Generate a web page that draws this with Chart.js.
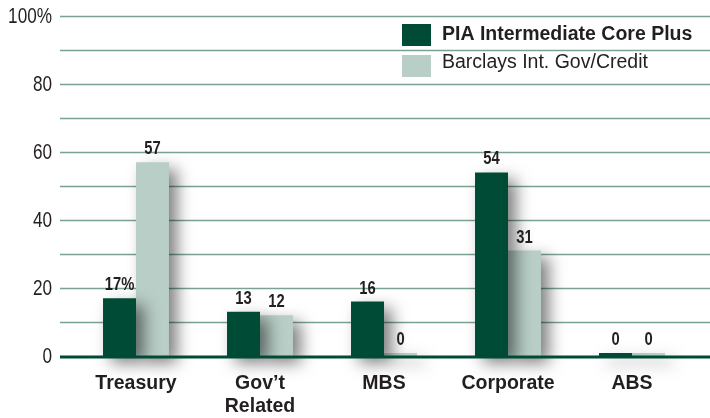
<!DOCTYPE html>
<html>
<head>
<meta charset="utf-8">
<script src="https://cdn.jsdelivr.net/npm/chart.js@4"></script>
<style>
  body { margin: 0; background: #fff; }
  #wrap { width: 710px; height: 418px; position: relative; }
</style>
</head>
<body>
<div id="wrap"><canvas id="sectorChart"></canvas></div>
<script>
const categories = ["Treasury", ["Gov\u2019t", "Related"], "MBS", "Corporate", "ABS"];
const piaValues = [17, 13, 16, 54, 0];
const barclaysValues = [57, 12, 0, 31, 0];
const seriesNames = ["PIA Intermediate Core Plus", "Barclays Int. Gov/Credit"];
const yTicks = [0, 20, 40, 60, 80, 100];

const SANS = "'Liberation Sans', Arial, sans-serif";
const TEXT = "#231f20";
const DARK = "#004b35";
const LIGHT = "#b8cec6";
const GRID = "#7aa293";

// gridlines every 10, thick baseline, bar shadows, value labels, narrow y labels, legend
const decor = {
  id: "decor",
  beforeDatasetsDraw(chart) {
    const ctx = chart.ctx;
    const y = chart.scales.y;
    ctx.save();
    ctx.strokeStyle = GRID;
    ctx.lineWidth = 1.6;
    for (let v = 10; v <= 100; v += 10) {
      const py = Math.round(y.getPixelForValue(v)) + 0.5;
      ctx.beginPath();
      ctx.moveTo(60, py);
      ctx.lineTo(chart.width, py);
      ctx.stroke();
    }
    ctx.restore();

    ctx.save();
    ctx.shadowColor = "rgba(0,0,0,0.5)";
    ctx.shadowBlur = 16;
    ctx.shadowOffsetX = 8;
    ctx.shadowOffsetY = 7;
  },
  afterDatasetsDraw(chart) {
    const ctx = chart.ctx;
    ctx.restore();

    const y = chart.scales.y;
    const base = y.getPixelForValue(0);
    ctx.save();
    ctx.strokeStyle = DARK;
    ctx.lineWidth = 3;
    ctx.beginPath();
    ctx.moveTo(60, base + 1);
    ctx.lineTo(chart.width, base + 1);
    ctx.stroke();

    // value labels
    ctx.fillStyle = TEXT;
    ctx.font = "bold 18px " + SANS;
    ctx.textAlign = "center";
    ctx.textBaseline = "bottom";
    chart.data.datasets.forEach((ds, di) => {
      chart.getDatasetMeta(di).data.forEach((bar, i) => {
        let txt = String(ds.data[i]);
        if (di === 0 && i === 0) txt += "%";
        ctx.save();
        ctx.translate(bar.x, bar.y - 4);
        ctx.scale(0.82, 1);
        ctx.fillText(txt, 0, 0);
        ctx.restore();
      });
    });

    // y tick labels, condensed look
    ctx.font = "22px " + SANS;
    ctx.textAlign = "right";
    ctx.textBaseline = "middle";
    y.ticks.forEach(t => {
      const txt = t.value === 100 ? "100%" : String(t.value);
      ctx.save();
      ctx.translate(52, y.getPixelForValue(t.value) + 1);
      ctx.scale(0.78, 1);
      ctx.fillText(txt, 0, 0);
      ctx.restore();
    });

    // legend
    ctx.textAlign = "left";
    chart.data.datasets.forEach((ds, di) => {
      const top = 24 + di * 31;
      ctx.fillStyle = ds.backgroundColor;
      ctx.fillRect(402, top, 29, 22);
      ctx.fillStyle = TEXT;
      ctx.font = (di === 0 ? "bold " : "") + "19.5px " + SANS;
      ctx.fillText(ds.label, 442, top + 11 - di * 3);
    });
    ctx.restore();
  }
};

new Chart(document.getElementById("sectorChart"), {
  type: "bar",
  data: {
    labels: categories,
    datasets: [
      { label: seriesNames[0], data: piaValues, backgroundColor: DARK, clip: false },
      { label: seriesNames[1], data: barclaysValues, backgroundColor: LIGHT, clip: false }
    ]
  },
  options: {
    responsive: true,
    maintainAspectRatio: false,
    animation: false,
    layout: { padding: { top: 16, right: 16, left: 0, bottom: 0 } },
    datasets: {
      bar: { categoryPercentage: 0.532, barPercentage: 1, minBarLength: 3, borderWidth: 0 }
    },
    plugins: {
      legend: { display: false },
      tooltip: { enabled: false }
    },
    scales: {
      x: {
        grid: { display: false, drawTicks: false },
        border: { display: false },
        ticks: {
          color: TEXT,
          font: { family: SANS, weight: "bold", size: 19.5, lineHeight: 1.2 },
          padding: 16,
          maxRotation: 0,
          autoSkip: false
        },
        afterFit(scale) { scale.height = 62; scale.paddingLeft = 0; scale.paddingRight = 0; }
      },
      y: {
        min: 0,
        max: 100,
        afterBuildTicks(scale) { scale.ticks = yTicks.map(v => ({ value: v })); },
        grid: { display: false, drawTicks: false },
        border: { display: false },
        ticks: { display: false },
        afterFit(scale) { scale.width = 74; scale.paddingTop = 0; scale.paddingBottom = 0; }
      }
    }
  },
  plugins: [decor]
});
</script>
</body>
</html>
